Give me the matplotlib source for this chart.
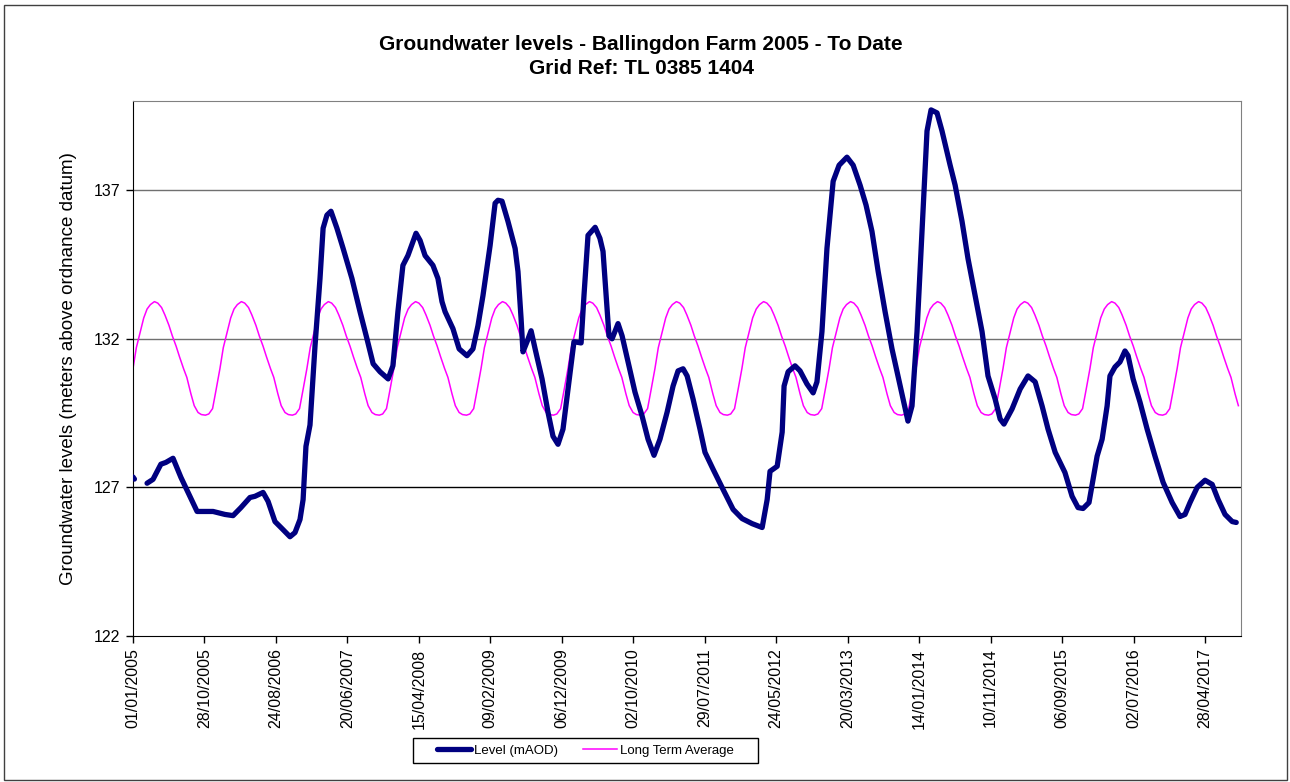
import numpy as np
import pandas as pd
import matplotlib
matplotlib.use("Agg")
import matplotlib.pyplot as plt
import matplotlib.dates as mdates
from matplotlib.patches import Rectangle

plt.rcParams["font.family"] = ["Liberation Sans", "DejaVu Sans"]

START = pd.Timestamp("2005-01-01")

# --- Level readings: days since 01/01/2005, level in mAOD (NaN = missing)
level_day = [
    0, 6, 7, 59, 84, 117, 138, 168, 201, 239, 269, 336, 386, 420, 453, 491,
    512, 546, 567, 596, 621, 659, 680, 701, 714, 726, 743, 764, 785, 798,
    814, 831, 856, 882, 919, 953, 982, 1008, 1037, 1071, 1091, 1112, 1133,
    1154, 1188, 1205, 1226, 1259, 1280, 1297, 1310, 1343, 1369, 1402, 1427,
    1448, 1469, 1499, 1520, 1532, 1549, 1574, 1604, 1616, 1629, 1637, 1654,
    1671, 1688, 1717, 1742, 1763, 1784, 1805, 1826, 1851, 1881, 1893, 1910,
    1940, 1960, 1973, 1986, 1998, 2011, 2036, 2053, 2078, 2107, 2137, 2162,
    2187, 2212, 2242, 2267, 2288, 2309, 2326, 2351, 2380, 2401, 2435, 2477,
    2519, 2557, 2599, 2641, 2662, 2674, 2704, 2725, 2733, 2750, 2779, 2800,
    2829, 2855, 2871, 2892, 2913, 2939, 2964, 2997, 3023, 3052, 3077, 3102,
    3128, 3157, 3186, 3211, 3232, 3253, 3270, 3291, 3312, 3333, 3350, 3375,
    3396, 3430, 3451, 3480, 3505, 3535, 3564, 3589, 3619, 3640, 3656, 3690,
    3724, 3757, 3787, 3816, 3841, 3871, 3912, 3942, 3967, 3988, 4013, 4030,
    4047, 4068, 4089, 4101, 4122, 4143, 4164, 4177, 4198, 4227, 4257, 4290,
    4324, 4362, 4395, 4416, 4437, 4467, 4500, 4530, 4555, 4584, 4614, 4631,
]
level_m = [
    127.35, 127.28, np.nan, 127.14, 127.27, 127.78, 127.84, 127.98, 127.34,
    126.70, 126.19, 126.19, 126.09, 126.05, 126.32, 126.66, 126.70, 126.83,
    126.53, 125.85, 125.65, 125.34, 125.48, 125.92, 126.59, 128.38, 129.10,
    131.76, 134.03, 135.72, 136.16, 136.29, 135.72, 135.04, 134.03, 132.91,
    132.00, 131.16, 130.89, 130.65, 131.09, 132.91, 134.47, 134.80, 135.55,
    135.31, 134.80, 134.47, 134.03, 133.25, 132.91, 132.34, 131.66, 131.43,
    131.66, 132.44, 133.45, 135.14, 136.56, 136.66, 136.63, 135.95, 135.04,
    134.26, 132.68, 131.56, 131.90, 132.27, 131.66, 130.65, 129.53, 128.72,
    128.45, 128.96, 130.31, 131.90, 131.86, 133.45, 135.48, 135.75, 135.38,
    134.94, 133.45, 132.10, 132.00, 132.51, 132.10, 131.22, 130.21, 129.40,
    128.62, 128.08, 128.62, 129.53, 130.41, 130.92, 130.99, 130.75, 129.97,
    128.96, 128.18, 127.61, 126.93, 126.26, 125.95, 125.78, 125.65, 126.59,
    127.54, 127.71, 128.86, 130.41, 130.89, 131.09, 130.92, 130.48, 130.18,
    130.55, 132.24, 135.04, 137.30, 137.84, 138.11, 137.84, 137.17, 136.50,
    135.61, 134.26, 132.91, 131.66, 130.75, 129.97, 129.23, 129.74, 132.24,
    135.61, 138.99, 139.70, 139.60, 138.99, 137.84, 137.17, 135.95, 134.70,
    133.45, 132.24, 130.75, 129.97, 129.30, 129.13, 129.64, 130.31, 130.75,
    130.55, 129.74, 128.96, 128.18, 127.50, 126.70, 126.32, 126.29, 126.49,
    127.27, 128.05, 128.62, 129.74, 130.75, 131.05, 131.22, 131.59, 131.43,
    130.65, 129.87, 128.96, 128.05, 127.17, 126.49, 126.02, 126.09, 126.49,
    127.00, 127.24, 127.10, 126.59, 126.09, 125.85, 125.82,
]

# --- Long term average: one value for the 1st and 15th of each month
lta_month_day = [
    "01-01", "01-15", "02-01", "02-15", "03-01", "03-15", "04-01", "04-15",
    "05-01", "05-15", "06-01", "06-15", "07-01", "07-15", "08-01", "08-15",
    "09-01", "09-15", "10-01", "10-15", "11-01", "11-15", "12-01", "12-15",
]
lta_values = [
    131.00, 131.70, 132.25, 132.70, 133.00, 133.15, 133.25, 133.20,
    133.05, 132.80, 132.45, 132.10, 131.75, 131.40, 131.00, 130.70,
    130.15, 129.75, 129.52, 129.45, 129.43, 129.47, 129.65, 130.25,
]
lta_years = list(range(2005, 2018))
lta_end = pd.Timestamp("2017-09-15")

y_ticks = [122, 127, 132, 137]

level_dates = START + pd.to_timedelta(level_day, unit="D")

lta_dates, lta_vals = [], []
for yr in lta_years:
    for md, v in zip(lta_month_day, lta_values):
        d = pd.Timestamp(f"{yr}-{md}")
        if d <= lta_end:
            lta_dates.append(d)
            lta_vals.append(v)

fig = plt.figure(figsize=(12.9, 7.82), dpi=100)
# outer chart border
fig.patches.append(Rectangle((4 / 1290, 2 / 782), 1283 / 1290, 775 / 782,
                             transform=fig.transFigure, fill=False,
                             edgecolor="#404040", linewidth=1))
# legend box
fig.patches.append(Rectangle((413 / 1290, 1 - 763 / 782), 345 / 1290, 25 / 782,
                             transform=fig.transFigure, fill=False,
                             edgecolor="#000000", linewidth=1))

ax = fig.add_axes([133 / 1290, 146 / 782, 1108 / 1290, 535 / 782])

for y in y_ticks[1:]:
    ax.axhline(y, color="#000000" if y == 127 else "#707070", linewidth=1, zorder=1)

lta_line, = ax.plot(lta_dates, lta_vals, color="#FF00FF", linewidth=1.1, zorder=2)
lvl_line, = ax.plot(level_dates, level_m, color="#000080", linewidth=3.8,
                    solid_capstyle="round", solid_joinstyle="round", zorder=3)

ax.set_ylim(122, 140)
ax.set_yticks(y_ticks)
ax.set_xlim(START, START + pd.Timedelta(days=4651))
ax.set_xticks(pd.date_range(START, periods=16, freq="300D"))
ax.xaxis.set_major_formatter(mdates.DateFormatter("%d/%m/%Y"))
plt.setp(ax.get_xticklabels(), rotation=90)
ax.tick_params(direction="out", length=5, width=1, labelsize=11.5, pad=4)

for side in ["top", "right"]:
    ax.spines[side].set_color("#808080")
for side in ["left", "bottom"]:
    ax.spines[side].set_color("#000000")

ax.set_ylabel("Groundwater levels (meters above ordnance datum)", fontsize=13.5, labelpad=12)

fig.text(0.497, 1 - 44 / 782, "Groundwater levels - Ballingdon Farm 2005 - To Date",
         ha="center", va="center", fontsize=15, fontweight="bold")
fig.text(0.497, 1 - 68 / 782, "Grid Ref: TL 0385 1404",
         ha="center", va="center", fontsize=15, fontweight="bold")

fig.legend([lvl_line, lta_line], ["Level (mAOD)", "Long Term Average"],
           loc="center left", bbox_to_anchor=(430 / 1290, 1 - 750.5 / 782),
           ncol=2, fontsize=9.5, frameon=False, borderpad=0,
           handlelength=2.6, handletextpad=0.2, columnspacing=1.9)

fig.savefig("out.png", dpi=100)
